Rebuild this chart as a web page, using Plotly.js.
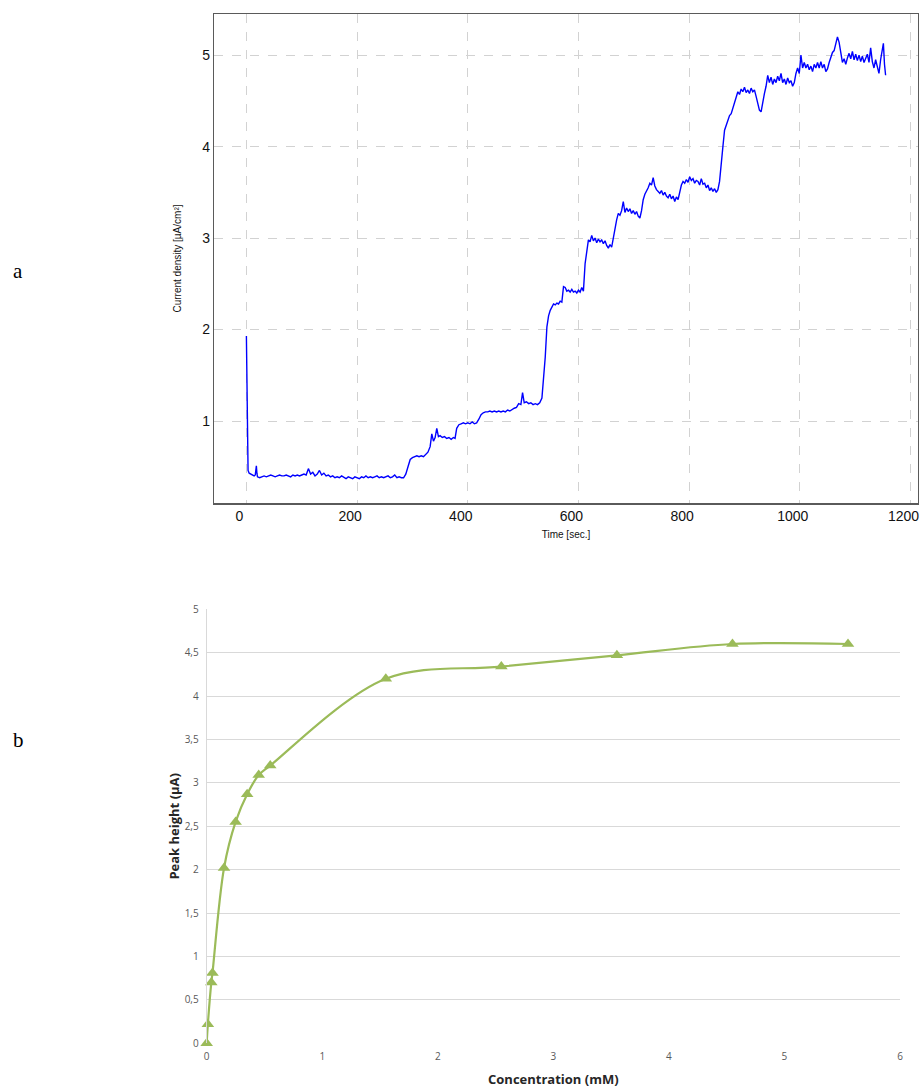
<!DOCTYPE html>
<html>
<head>
<meta charset="utf-8">
<script src="https://cdn.plot.ly/plotly-3.0.1.min.js"></script>
<style>
html,body{margin:0;padding:0;background:#fff;}
#chart{width:922px;height:1088px;}
</style>
</head>
<body>
<div id="chart"></div>
<script>
// ---- Panel a: chronoamperometry trace ----
const timeSec = [
  0,1,2,3,5,8,11,14,16,17,18,19,20,
  24,28,32,36,40,44,48,52,56,60,64,68,72,76,80,84,88,92,96,100,104,108,112,116,120,124,128,132,136,140,144,148,
  152,156,160,164,168,172,176,180,184,188,192,196,200,204,208,212,216,220,224,228,232,236,240,244,248,252,256,260,264,268,272,276,280,284,288,
  292,296,300,304,308,312,316,320,324,328,332,335,338,341,344,347,350,354,358,362,366,370,374,377,380,384,388,392,396,400,404,408,412,416,420,424,428,432,436,440,444,448,452,456,460,464,468,472,476,480,484,488,492,496,499,502,506,510,514,518,522,526,530,534,537,540,543,546,549,552,555,558,561,564,567,570,573,576,579,582,585,588,591,594,597,600,603,606,609,612,615,618,621,624,627,630,633,636,639,642,645,648,651,654,657,660,663,666,669,672,675,678,681,684,687,690,693,696,699,702,705,708,711,714,717,720,723,726,729,732,735,738,741,744,747,750,753,756,759,762,765,768,771,774,777,780,783,786,789,792,795,798,801,804,807,810,813,816,819,822,825,828,831,834,837,840,843,846,849,852,855,858,861,864,867,870,873,876,879,882,885,888,891,894,897,900,903,906,909,912,915,918,921,924,927,930,933,936,939,942,945,948,951,954,957,960,963,966,969,972,975,978,981,984,987,990,993,996,999,1002,1005,1008,1011,1014,1017,1020,1023,1026,1029,1032,1035,1038,1041,1044,1047,1050,1053,1056,1059,1062,1065,1068,1071,1074,1077,1080,1083,1086,1089,1092,1095,1098,1101,1104,1107,1110,1113,1116,1119,1122,1125,1128,1131,1134,1137,1140,1143,1146,1149,1151,1153,1155
];
const currentDensity = [
  1.93,1.10,0.55,0.46,0.43,0.42,0.41,0.40,0.41,0.50,0.51,0.43,0.39,
  0.38,0.39,0.40,0.39,0.40,0.41,0.40,0.39,0.40,0.41,0.40,0.40,0.41,0.40,0.39,0.41,0.40,0.41,0.40,0.41,0.42,0.41,0.48,0.42,0.44,0.40,0.42,0.46,0.41,0.43,0.40,0.41,
  0.39,0.40,0.38,0.39,0.38,0.40,0.38,0.37,0.39,0.38,0.37,0.39,0.38,0.37,0.39,0.38,0.40,0.38,0.39,0.38,0.39,0.40,0.38,0.39,0.38,0.39,0.40,0.38,0.39,0.41,0.38,0.39,0.38,0.38,0.42,
  0.50,0.58,0.60,0.61,0.62,0.61,0.62,0.61,0.63,0.66,0.72,0.86,0.78,0.82,0.92,0.83,0.84,0.82,0.83,0.81,0.82,0.80,0.82,0.81,0.92,0.96,0.97,0.98,0.97,0.98,0.97,0.99,0.97,0.98,1.02,1.07,1.09,1.10,1.10,1.11,1.10,1.11,1.10,1.11,1.10,1.11,1.10,1.12,1.11,1.13,1.14,1.15,1.19,1.18,1.31,1.20,1.21,1.19,1.20,1.18,1.19,1.18,1.20,1.25,1.45,1.70,2.03,2.15,2.21,2.25,2.28,2.27,2.29,2.28,2.31,2.30,2.47,2.46,2.42,2.43,2.41,2.44,2.41,2.42,2.40,2.43,2.41,2.46,2.42,2.72,2.87,2.98,2.96,3.03,2.97,3.00,2.95,2.99,2.96,2.98,2.94,2.97,2.92,2.89,2.93,2.90,3.00,3.12,3.20,3.27,3.25,3.30,3.40,3.28,3.33,3.29,3.32,3.27,3.30,3.26,3.29,3.24,3.22,3.30,3.42,3.48,3.51,3.55,3.60,3.58,3.66,3.57,3.53,3.51,3.49,3.52,3.47,3.50,3.46,3.44,3.48,3.43,3.46,3.40,3.45,3.42,3.52,3.58,3.62,3.60,3.64,3.61,3.67,3.63,3.65,3.60,3.63,3.62,3.58,3.65,3.59,3.60,3.55,3.58,3.52,3.55,3.51,3.54,3.50,3.53,3.62,3.78,4.00,4.18,4.24,4.28,4.34,4.36,4.42,4.50,4.55,4.60,4.57,4.63,4.60,4.65,4.59,4.62,4.58,4.64,4.60,4.62,4.55,4.48,4.40,4.38,4.50,4.58,4.66,4.78,4.70,4.76,4.68,4.74,4.70,4.77,4.72,4.80,4.70,4.74,4.68,4.75,4.70,4.72,4.66,4.70,4.80,4.86,4.80,5.00,4.86,4.92,4.86,4.90,4.84,4.88,4.82,4.90,4.86,4.92,4.86,4.93,4.86,4.90,4.82,4.85,4.92,4.98,5.03,5.05,5.12,5.20,5.14,5.02,4.92,4.96,4.90,4.97,5.02,4.96,5.04,4.95,5.01,4.94,5.00,4.93,4.99,4.92,4.96,5.01,4.92,5.08,4.93,4.86,4.95,4.88,4.80,4.95,5.06,5.13,4.90,4.78
];
const timeTicks = [0, 200, 400, 600, 800, 1000, 1200];
const densityTicks = [1, 2, 3, 4, 5];

// ---- Panel b: calibration curve ----
const concentration = [0, 0.01, 0.04, 0.05, 0.15, 0.25, 0.35, 0.45, 0.55, 1.55, 2.55, 3.55, 4.55, 5.55];
const peakHeight    = [0, 0.22, 0.70, 0.81, 2.02, 2.55, 2.87, 3.09, 3.20, 4.20, 4.34, 4.47, 4.60, 4.60];
const concTicks = [0, 1, 2, 3, 4, 5, 6];
const peakTicks = [0, 0.5, 1, 1.5, 2, 2.5, 3, 3.5, 4, 4.5, 5];

const W = 922, H = 1088;
const px = v => v / W;
const py = v => 1 - v / H;

const traces = [
  {
    x: timeSec, y: currentDensity, type: 'scatter', mode: 'lines',
    line: {color: '#0000ff', width: 1.4},
    xaxis: 'x', yaxis: 'y', hoverinfo: 'skip', showlegend: false
  },
  {
    x: concentration, y: peakHeight, type: 'scatter', mode: 'lines+markers',
    line: {color: '#9bbb59', width: 2.2, shape: 'spline', smoothing: 1},
    marker: {symbol: 'triangle-up', size: 11, color: '#9bbb59'},
    cliponaxis: false,
    xaxis: 'x2', yaxis: 'y2', hoverinfo: 'skip', showlegend: false
  }
];

const layout = {
  width: W, height: H,
  margin: {l: 0, r: 0, t: 0, b: 0},
  paper_bgcolor: '#ffffff', plot_bgcolor: '#ffffff',
  separators: ', ',
  showlegend: false,
  xaxis: {
    domain: [px(214.3), px(917.7)], anchor: 'y',
    range: [-58, 1213], tickvals: timeTicks, ticks: '',
    ticklabelshift: -7, ticklabeloverflow: 'allow',
    showgrid: true, gridcolor: '#d2d2d2', griddash: 'dash', gridwidth: 1,
    zeroline: false, showline: true, mirror: true, linecolor: '#5a5a5a', linewidth: 1.5,
    tickfont: {family: 'Liberation Sans, Arial, sans-serif', size: 14, color: '#111'},
    title: {text: 'Time [sec.]', font: {family: 'Liberation Sans, Arial, sans-serif', size: 10, color: '#111'}, standoff: 7}
  },
  yaxis: {
    domain: [py(503), py(14)], anchor: 'x',
    range: [0.104, 5.45], tickvals: densityTicks, ticks: '',
    showgrid: true, gridcolor: '#d2d2d2', griddash: 'dash', gridwidth: 1,
    zeroline: false, showline: true, mirror: true, linecolor: '#5a5a5a', linewidth: 1.5,
    tickfont: {family: 'Liberation Sans, Arial, sans-serif', size: 14, color: '#111'},
    title: {text: 'Current density [µA/cm²]', font: {family: 'Liberation Sans, Arial, sans-serif', size: 10, color: '#111'}, standoff: 18}
  },
  xaxis2: {
    domain: [px(206.7), px(900)], anchor: 'y2',
    range: [0, 6], tickvals: concTicks, ticks: '',
    ticklabelstandoff: 6,
    showgrid: false, zeroline: false, showline: false,
    tickfont: {family: 'Open Sans, Noto Sans, sans-serif', size: 10, color: '#595959'},
    title: {text: '<b>Concentration (mM)</b>', font: {family: 'Open Sans, Noto Sans, sans-serif', size: 13, color: '#262626'}, standoff: 12}
  },
  yaxis2: {
    domain: [py(1043.3), py(609.3)], anchor: 'x2',
    range: [0, 5], tickvals: peakTicks,
    ticks: 'outside', ticklen: 5, tickcolor: 'rgba(0,0,0,0)',
    showgrid: true, gridcolor: '#d9d9d9', gridwidth: 1,
    zeroline: false, showline: true, linecolor: '#d9d9d9', linewidth: 1,
    tickfont: {family: 'Open Sans, Noto Sans, sans-serif', size: 10, color: '#595959'},
    title: {text: '<b>Peak height (µA)</b>', font: {family: 'Open Sans, Noto Sans, sans-serif', size: 13, color: '#262626'}, standoff: 2}
  },
  annotations: [
    {text: 'a', xref: 'paper', yref: 'paper', x: px(18), y: py(271), xanchor: 'center', yanchor: 'middle', showarrow: false,
     font: {family: 'Liberation Serif, Times New Roman, serif', size: 21, color: '#000'}},
    {text: 'b', xref: 'paper', yref: 'paper', x: px(18), y: py(740), xanchor: 'center', yanchor: 'middle', showarrow: false,
     font: {family: 'Liberation Serif, Times New Roman, serif', size: 21, color: '#000'}}
  ]
};

Plotly.newPlot('chart', traces, layout, {staticPlot: true, displayModeBar: false});
</script>
</body>
</html>
